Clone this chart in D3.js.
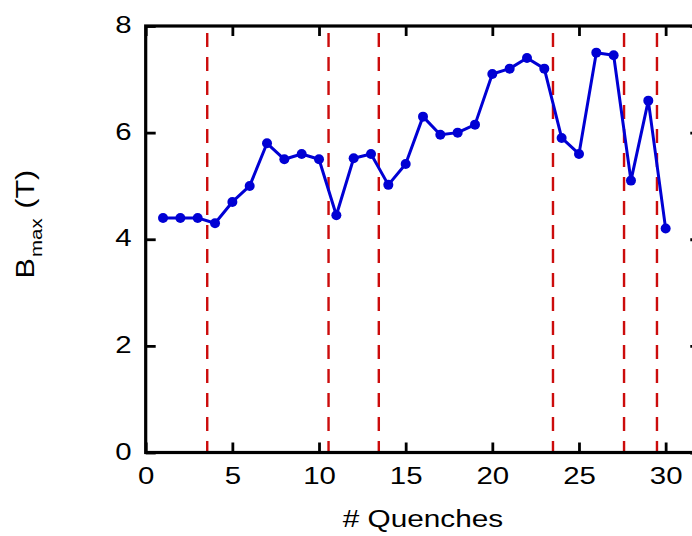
<!DOCTYPE html>
<html>
<head>
<meta charset="utf-8">
<script src="https://cdn.jsdelivr.net/npm/d3@7"></script>
<style>
  html, body { margin: 0; padding: 0; background: #fff; }
  svg { display: block; font-family: "Liberation Sans", Arial, sans-serif; }
  .xt text { transform-box: fill-box; transform-origin: 50% 50%; transform: scaleX(1.2); }
  .yt text { transform-box: fill-box; transform-origin: 100% 50%; transform: scaleX(1.2); }
  .xtitle { transform-box: fill-box; transform-origin: 50% 50%; transform: scaleX(1.2); }
</style>
</head>
<body>
<svg id="chart" width="692" height="536"></svg>
<script>
// ---- data ----
const quenchNumbers = [1,2,3,4,5,6,7,8,9,10,11,12,13,14,15,16,17,18,19,20,21,22,23,24,25,26,27,28,29,30];
const bmaxValues   = [4.4,4.4,4.4,4.3,4.7,5.0,5.8,5.5,5.6,5.5,4.45,5.52,5.6,5.02,5.41,6.3,5.96,6.0,6.15,7.1,7.2,7.4,7.2,5.9,5.6,7.5,7.45,5.1,6.6,4.2];
const dividerPositions = [3.55,10.55,13.45,23.5,27.6,29.5];
const xTicks = [0,5,10,15,20,25,30];
const yTicks = [0,2,4,6,8];
const xDomain = [0,32];
const yDomain = [0,8];

// ---- layout ----
const svg = d3.select("#chart");
const mLeft = 145.7, mRight = 700.3, mTop = 26, mBottom = 452.5;

const x = d3.scaleLinear().domain(xDomain).range([mLeft, mRight]);
const y = d3.scaleLinear().domain(yDomain).range([mBottom, mTop]);

const blue = "#0000d4";
const red = "#cc0c0c";

// dashed dividers
svg.append("g").selectAll("line").data(dividerPositions).join("line")
  .attr("x1", d => x(d)).attr("x2", d => x(d))
  .attr("y1", y(8) + 7).attr("y2", y(0))
  .attr("stroke", red).attr("stroke-width", 2.4)
  .attr("stroke-dasharray", "14,10");

// axes
function styleAxis(g) {
  g.select(".domain").remove();
  g.selectAll(".tick line").attr("stroke", "#000").attr("stroke-width", 2.8);
  g.selectAll(".tick text").attr("font-size", 24.5).attr("fill", "#000")
    .attr("font-family", "Liberation Sans, Arial, sans-serif");
}
const gx = svg.append("g").attr("class", "xt").attr("transform", `translate(0,${mBottom})`)
  .call(d3.axisBottom(x).tickValues(xTicks).tickSize(-10).tickPadding(14).tickFormat(d3.format("d")));
styleAxis(gx);
gx.selectAll(".tick text").attr("dy", "0.71em");

const gxt = svg.append("g").attr("transform", `translate(0,${mTop})`)
  .call(d3.axisTop(x).tickValues(xTicks).tickSize(-10).tickFormat(""));
styleAxis(gxt);

const gy = svg.append("g").attr("class", "yt").attr("transform", `translate(${mLeft},0)`)
  .call(d3.axisLeft(y).tickValues(yTicks).tickSize(-10).tickPadding(14).tickFormat(d3.format("d")));
styleAxis(gy);
gy.selectAll(".tick text").attr("dy", "0.27em");

const gyr = svg.append("g").attr("transform", `translate(${mRight},0)`)
  .call(d3.axisRight(y).tickValues(yTicks).tickSize(-10).tickFormat(""));
styleAxis(gyr);

// frame
svg.append("rect")
  .attr("x", mLeft).attr("y", mTop)
  .attr("width", mRight - mLeft).attr("height", mBottom - mTop)
  .attr("fill", "none").attr("stroke", "#000").attr("stroke-width", 3.2);

// data line
const pts = quenchNumbers.map((q, i) => [q, bmaxValues[i]]);
svg.append("path").datum(pts)
  .attr("fill", "none").attr("stroke", blue).attr("stroke-width", 3)
  .attr("stroke-linejoin", "round")
  .attr("d", d3.line().x(d => x(d[0])).y(d => y(d[1])));

svg.append("g").selectAll("circle").data(pts).join("circle")
  .attr("cx", d => x(d[0])).attr("cy", d => y(d[1]))
  .attr("r", 5).attr("fill", blue);

// axis titles
svg.append("text").attr("class", "xtitle")
  .attr("x", 423).attr("y", 527)
  .attr("text-anchor", "middle").attr("font-size", 24.8).attr("fill", "#000")
  .text("# Quenches");

const ylg = svg.append("g").attr("transform", "translate(33.5,278.5) rotate(-90)");
const yl = ylg.append("text")
  .attr("transform", "scale(1.2,1)")
  .attr("text-anchor", "start").attr("font-size", 25.5).attr("fill", "#000");
yl.append("tspan").text("B");
yl.append("tspan").attr("font-size", 17).attr("dy", 8).attr("dx", 1).text("max");
yl.append("tspan").attr("dy", -8).attr("dx", 8).text("(T)");
</script>
</body>
</html>
